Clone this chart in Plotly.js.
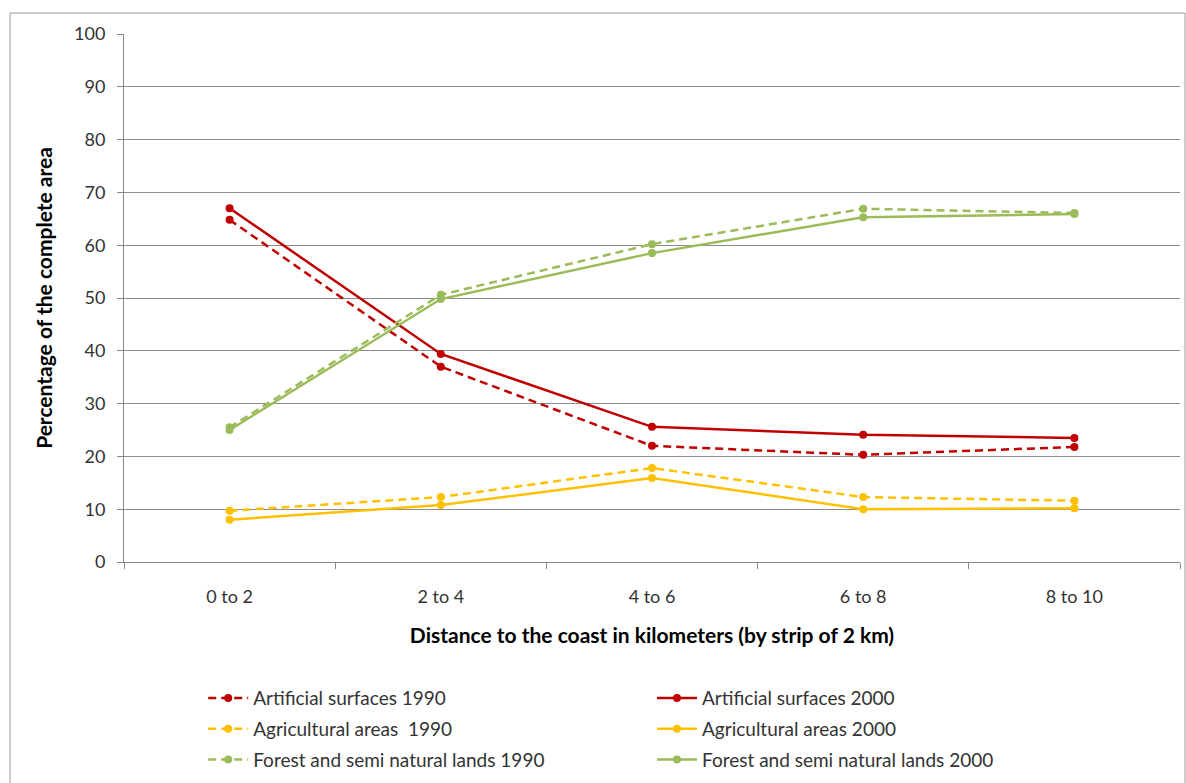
<!DOCTYPE html>
<html>
<head>
<meta charset="utf-8">
<script src="https://cdn.plot.ly/plotly-3.0.1.min.js"></script>
<style>
html,body{margin:0;padding:0;background:#fff;}
#chart{width:1186px;height:783px;}
</style>
</head>
<body>
<div id="chart"></div>
<script>
var categories = ["0 to 2", "2 to 4", "4 to 6", "6 to 8", "8 to 10"];
var artificial1990 = [64.8, 37.0, 22.0, 20.3, 21.8];
var artificial2000 = [67.0, 39.4, 25.6, 24.1, 23.5];
var agricultural1990 = [9.7, 12.3, 17.8, 12.3, 11.6];
var agricultural2000 = [8.0, 10.8, 15.9, 10.0, 10.2];
var forest1990 = [25.5, 50.6, 60.2, 66.9, 66.1];
var forest2000 = [25.0, 49.8, 58.5, 65.3, 65.9];
var yTicks = [0, 10, 20, 30, 40, 50, 60, 70, 80, 90, 100];

var RED = "#C00000", YEL = "#FFC000", GRN = "#9BBB59";
function tr(name, y, color, dash, leg, grp) {
  return {
    x: categories, y: y, name: name, type: "scatter", mode: "lines+markers",
    line: {color: color, width: 2.5, dash: dash},
    marker: {color: color, size: 8, symbol: "circle"},
    legend: leg, legendgroup: grp
  };
}
var DASH = "8px,5px";
var data = [
  tr("Artificial surfaces 1990", artificial1990, RED, DASH, "legend", "a1"),
  tr("Artificial surfaces 2000", artificial2000, RED, "solid", "legend2", "a2"),
  tr("Agricultural areas  1990", agricultural1990, YEL, DASH, "legend", "b1"),
  tr("Agricultural areas 2000", agricultural2000, YEL, "solid", "legend2", "b2"),
  tr("Forest and semi natural lands 1990", forest1990, GRN, DASH, "legend", "c1"),
  tr("Forest and semi natural lands 2000", forest2000, GRN, "solid", "legend2", "c2")
];
var FONT = "Lato, 'Open Sans', sans-serif";
var legFont = {family: FONT, size: 19, color: "#333"};
var layout = {
  width: 1186, height: 783,
  margin: {l: 124, r: 6, t: 34, b: 221, autoexpand: false},
  paper_bgcolor: "#fff", plot_bgcolor: "#fff",
  font: {family: FONT, size: 16, color: "#333"},
  showlegend: true,
  xaxis: {
    type: "category", range: [-0.5, 4.5], automargin: false,
    showgrid: false, showline: true, linecolor: "#888", linewidth: 1,
    ticks: "outside", tickson: "boundaries", ticklen: 6, tickcolor: "#888",
    tickfont: {family: FONT, size: 18, color: "#333"},
    ticklabelstandoff: 18,
    title: {text: "<b>Distance to the coast in kilometers (by strip of 2 km)</b>", font: {family: FONT, size: 21, color: "#000"}, standoff: 22},
    zeroline: false
  },
  yaxis: {
    range: [0, 100], tickvals: yTicks, ticktext: yTicks.map(String), automargin: false,
    showgrid: true, gridcolor: "#8c8c8c", gridwidth: 1,
    showline: true, linecolor: "#888", linewidth: 1,
    ticks: "outside", ticklen: 6, tickcolor: "#888",
    tickfont: {family: FONT, size: 18, color: "#333"},
    ticklabelstandoff: 8,
    title: {text: "<b>Percentage of the complete area</b>", font: {family: FONT, size: 21, color: "#000"}, standoff: 15},
    zeroline: false
  },
  legend: {
    orientation: "v", x: 0.075, xanchor: "left", y: -0.222, yanchor: "top",
    font: legFont, itemwidth: 40, tracegroupgap: 3, traceorder: "grouped",
    bgcolor: "rgba(0,0,0,0)"
  },
  legend2: {
    orientation: "v", x: 0.5, xanchor: "left", y: -0.222, yanchor: "top",
    font: legFont, itemwidth: 40, tracegroupgap: 3, traceorder: "grouped",
    bgcolor: "rgba(0,0,0,0)"
  },
  shapes: [{
    type: "rect", xref: "paper", yref: "paper",
    x0: (10 - 124) / 1056, x1: (1185 - 124) / 1056,
    y0: -0.5, y1: (562 - 13) / 528,
    line: {color: "#999", width: 1}, fillcolor: "rgba(0,0,0,0)", layer: "below"
  }]
};
Plotly.newPlot("chart", data, layout, {displayModeBar: false, staticPlot: true});
</script>
</body>
</html>
